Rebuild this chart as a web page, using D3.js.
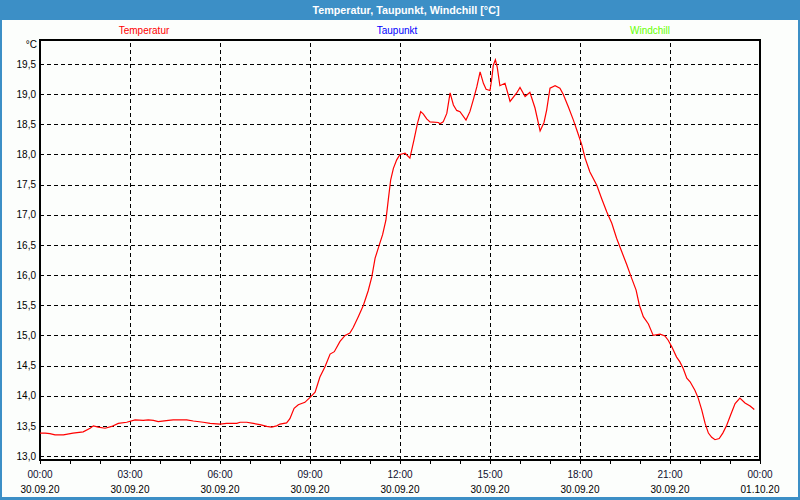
<!DOCTYPE html>
<html>
<head>
<meta charset="utf-8">
<script src="https://cdn.jsdelivr.net/npm/d3@7"></script>
<style>
  html, body { margin: 0; padding: 0; background: #fcfefc; }
  svg { display: block; }
  text { font-family: "Liberation Sans", Arial, sans-serif; }
</style>
</head>
<body>
<svg id="chart" width="800" height="500"></svg>
<script>
// ---------- data ----------
const title = "Temperatur, Taupunkt, Windchill [°C]";
const seriesNames = ["Temperatur", "Taupunkt", "Windchill"];
const seriesColors = ["#ff0000", "#0000ff", "#66ff00"];
const unitLabel = "°C";

// hours since 30.09.20 00:00
const hours = [
  0.00, 0.17, 0.33, 0.50, 0.78, 1.10, 1.44, 1.67, 1.78, 1.94, 2.17, 2.39, 2.61, 2.89,
  3.17, 3.44, 3.61, 3.78, 3.94, 4.28, 4.44, 4.89, 5.11, 5.44, 5.67, 6.00, 6.22, 6.56,
  6.67, 6.89, 7.11, 7.33, 7.56, 7.72, 7.89, 8.00, 8.22, 8.33, 8.47, 8.61, 8.83, 9.02,
  9.17, 9.33, 9.50, 9.67, 9.81, 10.00, 10.17, 10.33, 10.44, 10.61, 10.78, 10.94, 11.06,
  11.17, 11.31, 11.42, 11.53, 11.61, 11.69, 11.78, 11.89, 12.00, 12.17, 12.33, 12.47,
  12.58, 12.69, 12.78, 12.89, 13.00, 13.28, 13.33, 13.44, 13.56, 13.67, 13.78, 13.89,
  14.00, 14.20, 14.33, 14.44, 14.56, 14.67, 14.78, 14.87, 15.00, 15.06, 15.11, 15.18,
  15.24, 15.33, 15.50, 15.67, 15.89, 16.00, 16.17, 16.33, 16.50, 16.67, 16.80, 16.89,
  17.00, 17.17, 17.33, 17.44, 17.61, 17.78, 17.91, 18.06, 18.17, 18.33, 18.56, 18.72,
  18.89, 19.06, 19.22, 19.39, 19.56, 19.72, 19.87, 19.98, 20.11, 20.28, 20.44, 20.67,
  20.83, 20.94, 21.06, 21.22, 21.33, 21.44, 21.56, 21.67, 21.83, 21.94, 22.06, 22.17,
  22.28, 22.39, 22.50, 22.64, 22.76, 22.89, 23.02, 23.17, 23.33, 23.50, 23.67, 23.81
];
const temperature = [
  13.38, 13.38, 13.37, 13.35, 13.35, 13.38, 13.40, 13.46, 13.50, 13.48, 13.46, 13.49, 13.54, 13.56,
  13.60, 13.59, 13.60, 13.59, 13.57, 13.59, 13.60, 13.60, 13.58, 13.56, 13.54, 13.53, 13.54, 13.54,
  13.56, 13.56, 13.54, 13.52, 13.49, 13.48, 13.50, 13.53, 13.55, 13.62, 13.79, 13.85, 13.89, 13.98,
  14.06, 14.31, 14.48, 14.69, 14.73, 14.90, 15.00, 15.04, 15.13, 15.31, 15.50, 15.74, 15.97,
  16.28, 16.50, 16.67, 16.91, 17.25, 17.58, 17.77, 17.91, 18.00, 18.02, 17.94, 18.25,
  18.51, 18.71, 18.67, 18.59, 18.54, 18.53, 18.51, 18.54, 18.68, 19.02, 18.82, 18.73,
  18.71, 18.57, 18.71, 18.90, 19.12, 19.37, 19.18, 19.08, 19.06, 19.26, 19.48, 19.57,
  19.45, 19.14, 19.18, 18.88, 19.02, 19.11, 18.96, 19.03, 18.77, 18.39, 18.53, 18.74,
  19.10, 19.14, 19.10, 19.00, 18.79, 18.57, 18.38, 18.16, 17.94, 17.71, 17.49, 17.27,
  17.05, 16.86, 16.61, 16.39, 16.17, 15.95, 15.75, 15.50, 15.31, 15.19, 15.00, 15.02,
  14.99, 14.92, 14.81, 14.64, 14.56, 14.45, 14.29, 14.23, 14.09, 13.96, 13.76, 13.54,
  13.38, 13.31, 13.27, 13.29, 13.38, 13.51, 13.68, 13.87, 13.96, 13.88, 13.83, 13.77
];

const yTicks = [13.0, 13.5, 14.0, 14.5, 15.0, 15.5, 16.0, 16.5, 17.0, 17.5, 18.0, 18.5, 19.0, 19.5];
const xMajorTicks = [0, 3, 6, 9, 12, 15, 18, 21, 24];
const xTimeLabels = ["00:00", "03:00", "06:00", "09:00", "12:00", "15:00", "18:00", "21:00", "00:00"];
const xDateLabels = ["30.09.20", "30.09.20", "30.09.20", "30.09.20", "30.09.20", "30.09.20", "30.09.20", "30.09.20", "01.10.20"];
const xMinorTicks = d3.range(0, 25, 1);

// ---------- layout ----------
const W = 800, H = 500;
const plot = { left: 40, right: 760, top: 40, bottom: 460 };
const frameColor = "#3c8fc6";

const svg = d3.select("#chart");

svg.append("rect").attr("x", 0).attr("y", 0).attr("width", W).attr("height", H)
  .attr("fill", "#fcfefc");

// frame + title bar
svg.append("rect").attr("x", 1).attr("y", 1).attr("width", W - 2).attr("height", H - 2.5)
  .attr("fill", "none").attr("stroke", frameColor).attr("stroke-width", 2);
svg.append("rect").attr("x", 0).attr("y", H - 3).attr("width", W).attr("height", 3)
  .attr("fill", frameColor);
svg.append("rect").attr("x", 0).attr("y", 0).attr("width", W).attr("height", 20)
  .attr("fill", frameColor);
svg.append("text").attr("x", 406).attr("y", 14)
  .attr("text-anchor", "middle").attr("fill", "#ffffff")
  .attr("font-weight", "bold").attr("font-size", 11)
  .attr("textLength", 187).attr("lengthAdjust", "spacingAndGlyphs")
  .text(title);

// legend
const legendX = [144, 397, 650];
svg.append("g").selectAll("text").data(seriesNames).join("text")
  .attr("x", (d, i) => legendX[i]).attr("y", 34)
  .attr("text-anchor", "middle").attr("font-size", 10)
  .attr("fill", (d, i) => seriesColors[i])
  .text(d => d);

// scales
const x = d3.scaleLinear().domain([0, 24]).range([plot.left, plot.right]);
const y = d3.scaleLinear().domain([13, 19.5]).range([456, 64]);

// horizontal grid + y labels
const fmt = d => d.toFixed(1).replace(".", ",");
const gy = svg.append("g").attr("transform", `translate(${plot.left},0)`)
  .call(d3.axisLeft(y).tickValues(yTicks).tickSize(-(plot.right - plot.left)).tickPadding(4).tickFormat(fmt));
gy.select(".domain").remove();
gy.selectAll(".tick line").attr("stroke", "#000").attr("stroke-dasharray", "4,3")
  .attr("shape-rendering", "crispEdges");
gy.selectAll(".tick text").attr("font-size", 10).attr("fill", "#000")
  .attr("font-family", "Liberation Sans, Arial, sans-serif");

// vertical grid
const gx = svg.append("g").attr("transform", `translate(0,${plot.bottom})`)
  .call(d3.axisBottom(x).tickValues(xMajorTicks.slice(1, -1)).tickSize(-(plot.bottom - plot.top)).tickFormat(""));
gx.select(".domain").remove();
gx.selectAll(".tick line").attr("stroke", "#000").attr("stroke-dasharray", "4,3")
  .attr("shape-rendering", "crispEdges");

// minor ticks below axis
const gt = svg.append("g").attr("transform", `translate(0,${plot.bottom})`)
  .call(d3.axisBottom(x).tickValues(xMinorTicks).tickSize(4).tickFormat(""));
gt.select(".domain").remove();
gt.selectAll(".tick line").attr("stroke", "#000").attr("shape-rendering", "crispEdges");

// x labels
const gl = svg.append("g");
gl.selectAll("text.time").data(xMajorTicks).join("text").attr("class", "time")
  .attr("x", d => x(d)).attr("y", 478).attr("text-anchor", "middle")
  .attr("font-size", 10).attr("fill", "#101030")
  .text((d, i) => xTimeLabels[i]);
gl.selectAll("text.date").data(xMajorTicks).join("text").attr("class", "date")
  .attr("x", d => x(d)).attr("y", 493).attr("text-anchor", "middle")
  .attr("font-size", 10).attr("fill", "#000")
  .text((d, i) => xDateLabels[i]);

// unit label
svg.append("text").attr("x", 37).attr("y", 48).attr("text-anchor", "end")
  .attr("font-size", 10).attr("fill", "#000").text(unitLabel);

// plot border
svg.append("rect").attr("x", plot.left).attr("y", plot.top)
  .attr("width", plot.right - plot.left).attr("height", plot.bottom - plot.top)
  .attr("fill", "none").attr("stroke", "#000").attr("stroke-width", 1.5)
  .attr("shape-rendering", "crispEdges");

// temperature line
const data = hours.map((h, i) => ({ h, v: temperature[i] }));
svg.append("path").datum(data)
  .attr("fill", "none").attr("stroke", seriesColors[0]).attr("stroke-width", 1.2)
  .attr("d", d3.line().x(d => x(d.h)).y(d => y(d.v)));
</script>
</body>
</html>
